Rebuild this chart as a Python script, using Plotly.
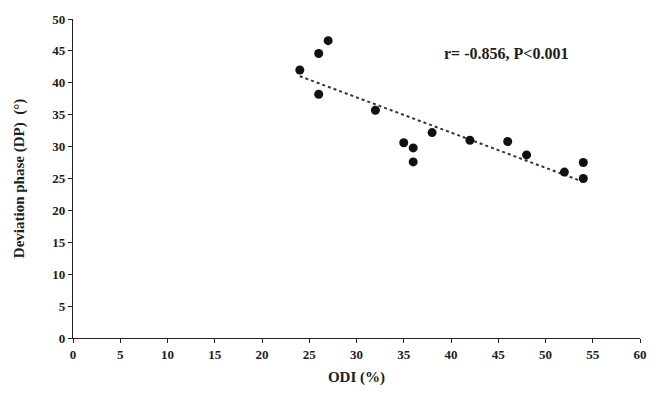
import numpy as np
import plotly.graph_objects as go

# ODI (%) vs deviation phase (DP)
odi = [24, 26, 27, 26, 32, 35, 36, 36, 38, 42, 46, 48, 52, 54, 54]
dp = [42.0, 44.6, 46.6, 38.2, 35.7, 30.6, 29.8, 27.6, 32.2, 31.0, 30.8, 28.7, 26.0, 27.5, 25.0]
x_ticks = list(range(0, 61, 5))
y_ticks = list(range(0, 51, 5))
stat_text = "r= -0.856, P<0.001"

# linear trendline
slope, icpt = np.polyfit(odi, dp, 1)
tx = np.linspace(min(odi), max(odi), 60)
ty = icpt + slope * tx

font = dict(family="Liberation Serif", color="#221c1c")

fig = go.Figure()
fig.add_trace(go.Scatter(x=tx, y=ty, mode="lines",
                         line=dict(color="#333333", width=2, dash="dot"),
                         hoverinfo="skip", showlegend=False))
fig.add_trace(go.Scatter(x=odi, y=dp, mode="markers",
                         marker=dict(color="#111111", size=9),
                         showlegend=False))

fig.add_annotation(x=0.764, y=0.893, xref="paper", yref="paper",
                   xanchor="center", yanchor="middle",
                   text="<b>" + stat_text + "</b>", showarrow=False,
                   font=dict(size=16, **font))

axis_common = dict(showline=True, linecolor="#222222", linewidth=1.2,
                   ticks="outside", ticklen=4, tickcolor="#222222",
                   showgrid=False, zeroline=False, automargin=False,
                   tickfont=dict(size=13, **font))

# margins allow for the page's 8px body offset
fig.update_layout(
    width=666, height=412,
    margin=dict(l=65, r=34, t=11, b=82),
    plot_bgcolor="white", paper_bgcolor="white",
    xaxis=dict(range=[0, 60], tickvals=x_ticks,
               ticktext=["<b>%d</b>" % v for v in x_ticks],
               title=dict(text="<b>ODI (%)</b>", font=dict(size=15, **font), standoff=10),
               **axis_common),
    yaxis=dict(range=[0, 50], tickvals=y_ticks,
               ticktext=["<b>%d</b>" % v for v in y_ticks],
               title=dict(text="<b>Deviation phase (DP)  (°)</b>", font=dict(size=15, **font), standoff=24),
               **axis_common),
)

fig.write_html("out.html")
